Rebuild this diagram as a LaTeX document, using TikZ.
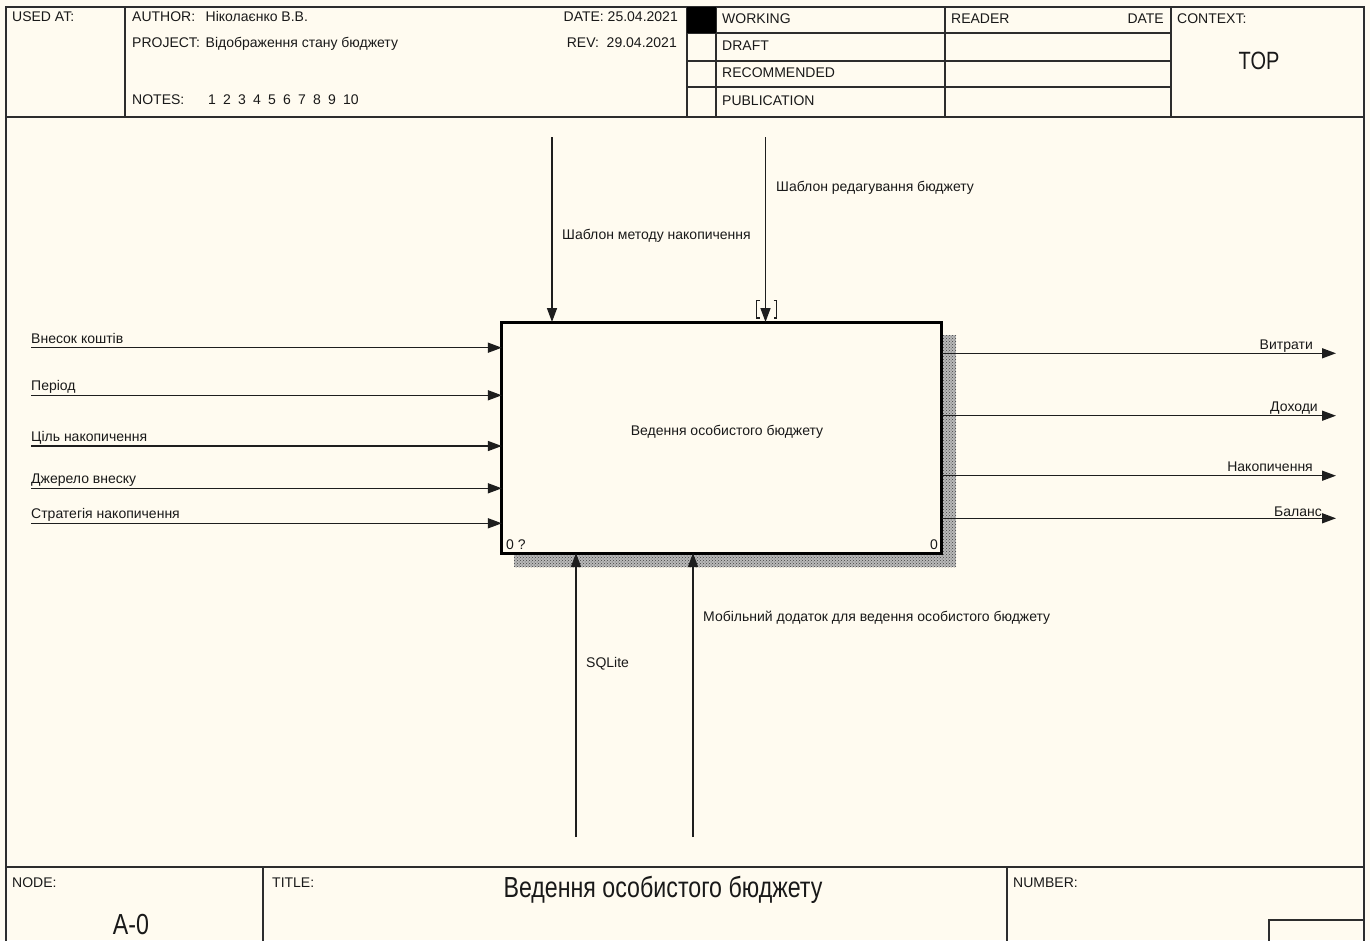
\documentclass[tikz,border=0pt]{standalone}
\usepackage{fontspec}
\setmainfont{Liberation Sans}
\newfontfamily\bignarrow[FakeStretch=0.8]{Liberation Sans}
\usetikzlibrary{arrows.meta,patterns}
\definecolor{cream}{RGB}{255,251,240}
\definecolor{txt}{RGB}{25,25,25}
\definecolor{frame}{RGB}{45,45,45}
\definecolor{linec}{RGB}{30,30,30}
\newcommand\smtxt{\fontsize{14}{16}\selectfont}
\newcommand\bigtxt{\bignarrow\fontsize{29}{32}\selectfont}
\newcommand\toptxt{\bignarrow\fontsize{25}{28}\selectfont}
\tikzset{
  lbl/.style={inner sep=0pt, font=\smtxt, text=txt},
  frm/.style={draw=frame, line width=2pt},
  arr/.style={draw=linec, line width=1.5pt, -{Triangle[length=14pt,width=10pt]}},
  mainbox/.style={draw=black, line width=3pt, fill=cream, minimum width=440pt, minimum height=231pt, inner sep=0pt, outer sep=0pt},
}
\begin{document}
\begin{tikzpicture}[x=1pt,y=-1pt]
\useasboundingbox (0,0) rectangle (1370,940);
\fill[cream] (0,0) rectangle (1370,940);
\clip (0,0) rectangle (1370,940);

% ---------- frame ----------
\draw[frm] (6,7) rectangle (1364,980);
\draw[frm] (6,117) -- (1364,117);
\draw[frm] (125,7) -- (125,117);
\draw[frm] (686.5,7) -- (686.5,117);
\draw[frm] (716,7) -- (716,117);
\draw[frm] (945,7) -- (945,117);
\draw[frm] (1171,7) -- (1171,117);
\foreach \yy in {33.3,60.5,87.3} { \draw[frm] (686.5,\yy) -- (1171,\yy); }
\fill[black] (686.5,7) rectangle (716,33.3);

\draw[frm] (6,867) -- (1364,867);
\draw[frm] (263,867) -- (263,980);
\draw[frm] (1007,867) -- (1007,980);
\draw[frm] (1269,920) rectangle (1364,980);

% ---------- header text ----------
\node[lbl, anchor=base west] (usedat) at (12,21) {USED AT:};
\node[lbl, anchor=base west] (authork) at (132,21) {AUTHOR:};
\node[lbl, anchor=base west] (authorv) at (205.5,21) {Ніколаєнко В.В.};
\node[lbl, anchor=base west] (projk) at (132,47) {PROJECT:};
\node[lbl, anchor=base west] (projv) at (205.5,47) {Відображення стану бюджету};
\node[lbl, anchor=base west] (notesk) at (132,104) {NOTES:};
\node[lbl, anchor=base west] (notesv) at (208,104) {1\hspace{7.2pt}2\hspace{7.2pt}3\hspace{7.2pt}4\hspace{7.2pt}5\hspace{7.2pt}6\hspace{7.2pt}7\hspace{7.2pt}8\hspace{7.2pt}9\hspace{7.2pt}10};
\node[lbl, anchor=base east] (datev) at (678,21) {DATE: 25.04.2021};
\node[lbl, anchor=base east] (revv) at (677,47) {REV:\ \ 29.04.2021};
\node[lbl, anchor=base west] (working) at (722,23) {WORKING};
\node[lbl, anchor=base west] (draft) at (722,50.5) {DRAFT};
\node[lbl, anchor=base west] (recom) at (722,77.5) {RECOMMENDED};
\node[lbl, anchor=base west] (publ) at (722,105) {PUBLICATION};
\node[lbl, anchor=base west] (reader) at (951,23) {READER};
\node[lbl, anchor=base east] (rdate) at (1164,23) {DATE};
\node[lbl, anchor=base west] (context) at (1177,23) {CONTEXT:};
\node[inner sep=0pt, font=\toptxt, text=txt, anchor=base] (top) at (1259,69) {TOP};

% ---------- footer text ----------
\node[lbl, anchor=base west] (nodek) at (12,887) {NODE:};
\node[lbl, anchor=base west] (titlek) at (272,887) {TITLE:};
\node[lbl, anchor=base west] (numberk) at (1013,887) {NUMBER:};
\node[inner sep=0pt, font=\bigtxt, text=txt, anchor=base] (nodev) at (131,934) {A-0};
\node[inner sep=0pt, font=\bigtxt, text=txt, anchor=base] (titlev) at (663,897.5) {Ведення особистого бюджету};

% ---------- main box ----------
\fill[gray!55] (514,335) rectangle (956,567);
\fill[pattern=crosshatch dots, pattern color=black!75] (514,335) rectangle (956,567);
\node[mainbox] (A0) at (721.85,437.5) {};
\node[lbl, anchor=base] (A0text) at (727,435) {Ведення особистого бюджету};
\node[lbl, anchor=base west] (A0num) at (506,549) {0 ?};
\node[lbl, anchor=base east] (A0id) at (938,549) {0};

% ---------- controls ----------
\coordinate (c1) at (552,137);
\coordinate (c2) at (765.5,137);
\draw[arr] (c1) -- (c1 |- A0.north);
\draw[arr] (c2) -- (c2 |- A0.north);
\node[lbl, anchor=base west] (c1lbl) at (562,239) {Шаблон методу накопичення};
\node[lbl, anchor=base west] (c2lbl) at (776,191.5) {Шаблон редагування бюджету};
\draw[draw=linec, line width=1.4pt] (759.5,300.5) -- (756.5,300.5) -- (756.5,318) -- (759.5,318);
\draw[draw=linec, line width=1.4pt] (773.5,300.5) -- (776.5,300.5) -- (776.5,318) -- (773.5,318);

% ---------- mechanisms ----------
\coordinate (m1) at (576,837);
\coordinate (m2) at (693,837);
\draw[arr] (m1) -- (m1 |- A0.south);
\draw[arr] (m2) -- (m2 |- A0.south);
\node[lbl, anchor=base west] (m1lbl) at (586,667.5) {SQLite};
\node[lbl, anchor=base west] (m2lbl) at (703,621) {Мобільний додаток для ведення особистого бюджету};

% ---------- inputs ----------
\coordinate (i1) at (31,347.7);
\coordinate (i2) at (31,395.3);
\coordinate (i3) at (31,446);
\coordinate (i4) at (31,488.3);
\coordinate (i5) at (31,523.3);
\foreach \c in {i1,i2,i3,i4,i5} { \draw[arr] (\c) -- (\c -| A0.west); }
\node[lbl, anchor=base west] (i1lbl) at (31,343.2) {Внесок коштів};
\node[lbl, anchor=base west] (i2lbl) at (31,390.8) {Період};
\node[lbl, anchor=base west] (i3lbl) at (31,441.5) {Ціль накопичення};
\node[lbl, anchor=base west] (i4lbl) at (31,483.8) {Джерело внеску};
\node[lbl, anchor=base west] (i5lbl) at (31,518.8) {Стратегія накопичення};

% ---------- outputs ----------
\coordinate (o1) at (1336,353.3);
\coordinate (o2) at (1336,415.7);
\coordinate (o3) at (1336,475.7);
\coordinate (o4) at (1336,518.3);
\foreach \c in {o1,o2,o3,o4} { \draw[arr] (\c -| A0.east) -- (\c); }
\node[lbl, anchor=base east] (o1lbl) at (1313,349.5) {Витрати};
\node[lbl, anchor=base east] (o2lbl) at (1318,411.5) {Доходи};
\node[lbl, anchor=base east] (o3lbl) at (1313,471.5) {Накопичення};
\node[lbl, anchor=base east] (o4lbl) at (1322,516) {Баланс};
\end{tikzpicture}
\end{document}
